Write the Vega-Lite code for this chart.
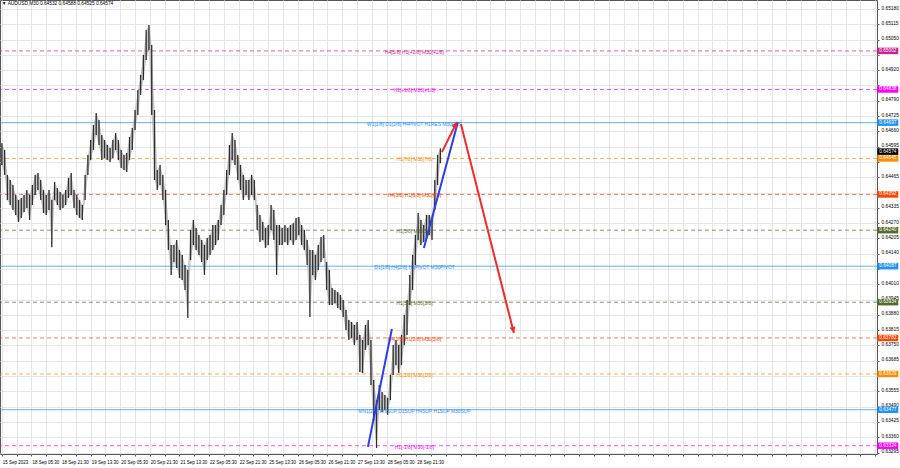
{
"$schema": "https://vega.github.io/schema/vega-lite/v6.json",
"width": 877, "height": 454,
"autosize": {"type": "none"},
"padding": {"left": 0, "top": 0, "right": 23, "bottom": 14},
"background": "white",
"config": {"view": {"stroke": "#555", "strokeWidth": 1}, "font": "Liberation Sans",
"axis": {"labelOverlap": false, "labelBound": false, "labelFlush": false, "labelColor": "#000", "tickSize": 2, "tickColor": "#555", "domain": false, "grid": true, "gridColor": "#e6e6e6", "title": null, "tickCount": 200},
"axisX": {"labelFontSize": 4.5},
"axisY": {"labelFontSize": 4.8}},
"datasets": {
"bars": [
{"t":0,"h":0.64610,"l":0.64517},{"t":3,"h":0.64581,"l":0.64475},{"t":6,"h":0.64475,"l":0.64368},{"t":9,"h":0.64453,"l":0.64347},{"t":12,"h":0.64432,"l":0.64326},{"t":15,"h":0.64390,"l":0.64305},{"t":18,"h":0.64368,"l":0.64275},{"t":21,"h":0.64377,"l":0.64292},{"t":24,"h":0.64390,"l":0.64317},{"t":27,"h":0.64411,"l":0.64334},
{"t":30,"h":0.64390,"l":0.64283},{"t":33,"h":0.64432,"l":0.64347},{"t":36,"h":0.64475,"l":0.64390},{"t":39,"h":0.64483,"l":0.64411},{"t":42,"h":0.64453,"l":0.64368},{"t":45,"h":0.64411,"l":0.64313},{"t":48,"h":0.64390,"l":0.64305},{"t":51,"h":0.64411,"l":0.64326},{"t":54,"h":0.64368,"l":0.64168},{"t":57,"h":0.64445,"l":0.64368},
{"t":60,"h":0.64419,"l":0.64347},{"t":63,"h":0.64402,"l":0.64326},{"t":66,"h":0.64390,"l":0.64334},{"t":69,"h":0.64411,"l":0.64347},{"t":72,"h":0.64462,"l":0.64377},{"t":75,"h":0.64483,"l":0.64390},{"t":78,"h":0.64411,"l":0.64334},{"t":81,"h":0.64390,"l":0.64305},{"t":84,"h":0.64368,"l":0.64292},{"t":87,"h":0.64347,"l":0.64283},
{"t":90,"h":0.64475,"l":0.64368},{"t":93,"h":0.64560,"l":0.64475},{"t":96,"h":0.64623,"l":0.64538},{"t":99,"h":0.64687,"l":0.64581},{"t":102,"h":0.64738,"l":0.64645},{"t":105,"h":0.64708,"l":0.64602},{"t":108,"h":0.64645,"l":0.64538},{"t":111,"h":0.64623,"l":0.64547},{"t":114,"h":0.64602,"l":0.64538},{"t":117,"h":0.64589,"l":0.64530},
{"t":120,"h":0.64623,"l":0.64547},{"t":123,"h":0.64653,"l":0.64581},{"t":126,"h":0.64623,"l":0.64538},{"t":129,"h":0.64581,"l":0.64504},{"t":132,"h":0.64560,"l":0.64496},{"t":135,"h":0.64568,"l":0.64487},{"t":138,"h":0.64636,"l":0.64538},{"t":141,"h":0.64674,"l":0.64581},{"t":144,"h":0.64751,"l":0.64666},{"t":147,"h":0.64836,"l":0.64730},
{"t":150,"h":0.64900,"l":0.64815},{"t":153,"h":0.64985,"l":0.64878},{"t":156,"h":0.65091,"l":0.64963},{"t":159,"h":0.65112,"l":0.65006},{"t":162,"h":0.65027,"l":0.64730},{"t":165,"h":0.64751,"l":0.64453},{"t":168,"h":0.64496,"l":0.64411},{"t":171,"h":0.64517,"l":0.64432},{"t":174,"h":0.64475,"l":0.64368},{"t":177,"h":0.64411,"l":0.64262},
{"t":180,"h":0.64283,"l":0.64156},{"t":183,"h":0.64177,"l":0.64050},{"t":186,"h":0.64177,"l":0.64105},{"t":189,"h":0.64198,"l":0.64079},{"t":192,"h":0.64156,"l":0.64037},{"t":195,"h":0.64135,"l":0.64028},{"t":198,"h":0.64092,"l":0.63986},{"t":201,"h":0.64071,"l":0.63867},{"t":204,"h":0.64241,"l":0.64113},{"t":207,"h":0.64283,"l":0.64177},
{"t":210,"h":0.64249,"l":0.64156},{"t":213,"h":0.64220,"l":0.64135},{"t":216,"h":0.64198,"l":0.64105},{"t":219,"h":0.64177,"l":0.64050},{"t":222,"h":0.64207,"l":0.64113},{"t":225,"h":0.64220,"l":0.64135},{"t":228,"h":0.64262,"l":0.64156},{"t":231,"h":0.64262,"l":0.64177},{"t":234,"h":0.64283,"l":0.64198},{"t":237,"h":0.64347,"l":0.64262},
{"t":240,"h":0.64411,"l":0.64305},{"t":243,"h":0.64496,"l":0.64390},{"t":246,"h":0.64602,"l":0.64475},{"t":249,"h":0.64653,"l":0.64538},{"t":252,"h":0.64623,"l":0.64517},{"t":255,"h":0.64560,"l":0.64453},{"t":258,"h":0.64517,"l":0.64411},{"t":261,"h":0.64475,"l":0.64368},{"t":264,"h":0.64453,"l":0.64390},{"t":267,"h":0.64453,"l":0.64368},
{"t":270,"h":0.64475,"l":0.64390},{"t":273,"h":0.64453,"l":0.64368},{"t":276,"h":0.64347,"l":0.64241},{"t":279,"h":0.64305,"l":0.64190},{"t":282,"h":0.64275,"l":0.64198},{"t":285,"h":0.64249,"l":0.64164},{"t":288,"h":0.64262,"l":0.64177},{"t":291,"h":0.64347,"l":0.64241},{"t":294,"h":0.64326,"l":0.64198},{"t":297,"h":0.64262,"l":0.64050},
{"t":300,"h":0.64262,"l":0.64177},{"t":303,"h":0.64249,"l":0.64177},{"t":306,"h":0.64262,"l":0.64190},{"t":309,"h":0.64249,"l":0.64177},{"t":312,"h":0.64262,"l":0.64198},{"t":315,"h":0.64270,"l":0.64177},{"t":318,"h":0.64292,"l":0.64198},{"t":321,"h":0.64296,"l":0.64220},{"t":324,"h":0.64262,"l":0.64177},{"t":327,"h":0.64241,"l":0.64156},
{"t":330,"h":0.64198,"l":0.64092},{"t":333,"h":0.64156,"l":0.63871},{"t":336,"h":0.64156,"l":0.64050},{"t":339,"h":0.64135,"l":0.64028},{"t":342,"h":0.64177,"l":0.64071},{"t":345,"h":0.64211,"l":0.64105},{"t":348,"h":0.64220,"l":0.64122},{"t":351,"h":0.64105,"l":0.63986},{"t":354,"h":0.64071,"l":0.63922},{"t":357,"h":0.63994,"l":0.63922},
{"t":360,"h":0.63986,"l":0.63930},{"t":363,"h":0.63977,"l":0.63909},{"t":366,"h":0.63965,"l":0.63901},{"t":369,"h":0.63943,"l":0.63871},{"t":372,"h":0.63901,"l":0.63816},{"t":375,"h":0.63858,"l":0.63773},{"t":378,"h":0.63850,"l":0.63782},{"t":381,"h":0.63837,"l":0.63752},{"t":384,"h":0.63850,"l":0.63773},{"t":387,"h":0.63795,"l":0.63637},
{"t":390,"h":0.63773,"l":0.63633},{"t":393,"h":0.63837,"l":0.63731},{"t":396,"h":0.63858,"l":0.63752},{"t":399,"h":0.63773,"l":0.63582},{"t":402,"h":0.63603,"l":0.63433},{"t":405,"h":0.63518,"l":0.63314},{"t":408,"h":0.63582,"l":0.63476},{"t":411,"h":0.63552,"l":0.63467},{"t":414,"h":0.63540,"l":0.63476},{"t":417,"h":0.63527,"l":0.63455},
{"t":420,"h":0.63625,"l":0.63518},{"t":423,"h":0.63752,"l":0.63625},{"t":426,"h":0.63773,"l":0.63667},{"t":429,"h":0.63752,"l":0.63633},{"t":432,"h":0.63795,"l":0.63667},{"t":435,"h":0.63880,"l":0.63752},{"t":438,"h":0.63943,"l":0.63795},{"t":441,"h":0.64050,"l":0.63922},{"t":444,"h":0.64135,"l":0.63986},{"t":447,"h":0.64220,"l":0.64092},
{"t":450,"h":0.64313,"l":0.64198},{"t":453,"h":0.64283,"l":0.64177},{"t":456,"h":0.64262,"l":0.64190},{"t":459,"h":0.64305,"l":0.64207},{"t":462,"h":0.64305,"l":0.64220},{"t":465,"h":0.64292,"l":0.64198},{"t":468,"h":0.64453,"l":0.64326},{"t":471,"h":0.64560,"l":0.64432},{"t":474,"h":0.64588,"l":0.64525}
],
"levels": [
{"p":0.65002,"tier":"+2/8","kind":"octave","label":"H4[5/8] H1[+2/8] M30[+2/8]"},
{"p":0.64838,"tier":"+1/8","kind":"octave","label":"H1[+1/8] M30[+1/8]"},
{"p":0.64697,"tier":"8/8","kind":"pivot","label":"W1[1/8] D1[2/8] H4PIVOT H1RES M30RES"},
{"p":0.64545,"tier":"7/8","kind":"octave","label":"H1[7/8] M30[7/8]"},
{"p":0.64392,"tier":"6/8","kind":"octave","label":"H4[3/8] H1[6/8] M30[6/8]"},
{"p":0.64240,"tier":"5/8","kind":"octave","label":"H1[5/8] M30[5/8]"},
{"p":0.64087,"tier":"4/8","kind":"pivot","label":"D1[1/8] H4[2/8] H1PIVOT M30PIVOT"},
{"p":0.63934,"tier":"3/8","kind":"octave","label":"H1[3/8] M30[3/8]"},
{"p":0.63782,"tier":"2/8","kind":"octave","label":"H4[1/8] H1[2/8] M30[2/8]"},
{"p":0.63629,"tier":"1/8","kind":"octave","label":"H1[1/8] M30[1/8]"},
{"p":0.63477,"tier":"0/8","kind":"pivot","label":"MN1[2/8] W1SUP D1SUP H4SUP H1SUP M30SUP"},
{"p":0.63324,"tier":"-1/8","kind":"octave","label":"H1[-1/8] M30[-1/8]"}
],
"paths": [
{"id":"trend1","kind":"trend","t":395.7,"p":0.63319},{"id":"trend1","kind":"trend","t":421.6,"p":0.63820},
{"id":"trend2","kind":"trend","t":456.2,"p":0.64164},{"id":"trend2","kind":"trend","t":493.0,"p":0.64700},
{"id":"up","kind":"forecast","t":475.7,"p":0.64572},{"id":"up","kind":"forecast","t":491.9,"p":0.64700},
{"id":"down","kind":"forecast","t":496.2,"p":0.64691},{"id":"down","kind":"forecast","t":553.5,"p":0.63803}
]
},
"layer": [
{
"data": {"name": "levels"},
"mark": {"type": "rule", "strokeWidth": 1, "opacity": 0.7},
"encoding": {
"y": {"field": "p", "type": "quantitative", "scale": {"domain": [0.632888, 0.652183], "nice": false, "zero": false},
"axis": {"orient": "right", "tickCount": 200, "values": [0.65180,0.65115,0.65050,0.64985,0.64920,0.64855,0.64790,0.64725,0.64660,0.64595,0.64530,0.64465,0.64400,0.64335,0.64270,0.64205,0.64140,0.64075,0.64010,0.63945,0.63880,0.63815,0.63750,0.63685,0.63620,0.63555,0.63490,0.63425,0.63360,0.63295],
"labelExpr": "indexof(['0.64985','0.64855','0.64530','0.64400','0.64075','0.63620'], format(datum.value, '.5f')) >= 0 ? '' : format(datum.value, '.5f')",
"labelAlign": "left", "labelPadding": 2, "labelOffset": -1}},
"color": {"field": "tier", "type": "nominal", "legend": null,
"scale": {"domain": ["+2/8","+1/8","8/8","7/8","6/8","5/8","4/8","3/8","2/8","1/8","0/8","-1/8"],
"range": ["#D02090","#FF00FF","#1E90FF","#FF8C00","#FF4500","#556B2F","#1E90FF","#556B2F","#FF4500","#FF8C00","#1E90FF","#FF00FF"]}},
"strokeDash": {"field": "kind", "type": "nominal", "legend": null, "scale": {"domain": ["octave","pivot"], "range": [[4,3],[1,0]]}}
}
},
{
"data": {"name": "bars"},
"mark": {"type": "area", "color": "#9a9a9a", "opacity": 0.55, "interpolate": "linear"},
"encoding": {
"x": {"field": "t", "type": "quantitative", "scale": {"domain": [-2, 946], "nice": false, "zero": false},
"axis": {"tickCount": 200, "values": [0,16,32,48,64,80,96,112,128,144,160,176,192,208,224,240,256,272,288,304,320,336,352,368,384,400,416,432,448,464,480,496,512,528,544,560,576,592,608,624,640,656,672,688,704,720,736,752,768,784,800,816,832,848,864,880,896,912,928,944],
"labelExpr": "(datum.value % 32 == 0 && datum.value <= 448) ? ['15 Sep 2023','18 Sep 05:30','18 Sep 21:30','19 Sep 13:30','20 Sep 05:30','20 Sep 21:30','21 Sep 13:30','22 Sep 05:30','22 Sep 21:30','25 Sep 13:30','26 Sep 05:30','26 Sep 21:30','27 Sep 13:30','28 Sep 05:30','28 Sep 21:30'][datum.value / 32] : ''",
"labelAlign": "left", "labelOffset": 0.5, "labelPadding": 3}},
"y": {"field": "h", "type": "quantitative", "scale": {"domain": [0.632888, 0.652183], "nice": false, "zero": false}},
"y2": {"field": "l"}
}
},
{
"data": {"name": "bars"},
"mark": {"type": "rule", "strokeWidth": 1.3, "color": "#2e2e2e"},
"encoding": {
"x": {"field": "t", "type": "quantitative"},
"y": {"field": "h", "type": "quantitative"},
"y2": {"field": "l"}
}
},
{
"data": {"name": "levels"},
"mark": {"type": "text", "fontSize": 4.9, "align": "center", "baseline": "middle", "dy": 2},
"encoding": {
"x": {"datum": 446, "type": "quantitative"},
"y": {"field": "p", "type": "quantitative"},
"text": {"field": "label"},
"color": {"field": "tier", "type": "nominal", "legend": null}
}
},
{
"data": {"name": "paths"},
"transform": [{"filter": "datum.kind == 'trend'"}],
"mark": {"type": "line", "strokeWidth": 2, "color": "#2a3cf0"},
"encoding": {
"x": {"field": "t", "type": "quantitative"},
"y": {"field": "p", "type": "quantitative"},
"detail": {"field": "id"}
}
},
{
"data": {"name": "paths"},
"transform": [{"filter": "datum.kind == 'forecast'"}],
"mark": {"type": "line", "strokeWidth": 2, "color": "#f22a2a"},
"encoding": {
"x": {"field": "t", "type": "quantitative"},
"y": {"field": "p", "type": "quantitative"},
"detail": {"field": "id"}
}
},
{
"data": {"name": "paths"},
"transform": [{"filter": "datum.id == 'up' && datum.t > 480"}],
"mark": {"type": "point", "shape": "M0,0L0.5,1L-0.5,1Z", "size": 150, "filled": true, "color": "#f22a2a", "opacity": 1, "angle": 27},
"encoding": {"x": {"field": "t", "type": "quantitative"}, "y": {"field": "p", "type": "quantitative"}}
},
{
"data": {"name": "paths"},
"transform": [{"filter": "datum.id == 'down' && datum.t > 500"}],
"mark": {"type": "point", "shape": "M0,0L0.5,1L-0.5,1Z", "size": 150, "filled": true, "color": "#f22a2a", "opacity": 1, "angle": 166},
"encoding": {"x": {"field": "t", "type": "quantitative"}, "y": {"field": "p", "type": "quantitative"}}
},
{
"data": {"name": "levels"},
"mark": {"type": "rule", "strokeWidth": 6.5, "strokeCap": "butt"},
"encoding": {
"x": {"datum": 946.5, "type": "quantitative"},
"x2": {"datum": 969},
"y": {"field": "p", "type": "quantitative"},
"color": {"field": "tier", "type": "nominal", "legend": null}
}
},
{
"data": {"values": [{"p": 0.64574}]},
"mark": {"type": "rule", "strokeWidth": 6.5, "strokeCap": "butt", "color": "#000"},
"encoding": {
"x": {"datum": 946.5, "type": "quantitative"},
"x2": {"datum": 969},
"y": {"field": "p", "type": "quantitative"}
}
},
{
"data": {"name": "levels"},
"mark": {"type": "text", "fontSize": 4.8, "align": "center", "baseline": "middle", "color": "white"},
"encoding": {
"x": {"datum": 957.7, "type": "quantitative"},
"y": {"field": "p", "type": "quantitative"},
"text": {"field": "p", "format": ".5f"}
}
},
{
"data": {"values": [{"p": 0.64574}]},
"mark": {"type": "text", "fontSize": 4.8, "align": "center", "baseline": "middle", "color": "white"},
"encoding": {
"x": {"datum": 957.7, "type": "quantitative"},
"y": {"field": "p", "type": "quantitative"},
"text": {"field": "p", "format": ".5f"}
}
},
{
"data": {"values": [{"label": "▼  AUDUSD,M30  0.64532 0.64588 0.64525 0.64574"}]},
"mark": {"type": "text", "fontSize": 4.8, "align": "left", "baseline": "middle", "color": "#000"},
"encoding": {
"x": {"datum": 0, "type": "quantitative"},
"y": {"datum": 0.65201, "type": "quantitative"},
"text": {"field": "label"}
}
}
]
}
